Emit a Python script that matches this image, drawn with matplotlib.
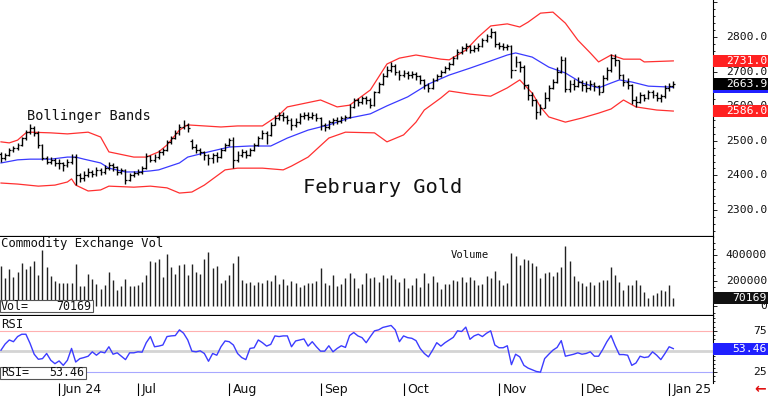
import matplotlib
matplotlib.use("Agg")
import matplotlib.pyplot as plt
from matplotlib.patches import Rectangle
from matplotlib.ticker import MultipleLocator

MONO = "DejaVu Sans Mono"

# daily bars, May 13 2024 .. Jan 3 2025 (163 sessions)
opens = [2462,
    2450, 2459, 2473, 2479, 2488, 2508, 2525, 2537, 2522, 2488,
    2450, 2439, 2445, 2436, 2436, 2430, 2439, 2453, 2401, 2392,
    2401, 2410, 2404, 2416, 2410, 2421, 2430, 2424, 2410, 2416,
    2387, 2401, 2407, 2410, 2421, 2456, 2445, 2453, 2468, 2473,
    2496, 2508, 2522, 2540, 2546, 2500, 2482, 2473, 2468, 2459,
    2450, 2459, 2453, 2473, 2488, 2502, 2445, 2460, 2468, 2459,
    2473, 2488, 2508, 2522, 2517, 2546, 2566, 2575, 2569, 2560,
    2546, 2554, 2572, 2575, 2569, 2575, 2566, 2546, 2540, 2554,
    2560, 2557, 2566, 2569, 2598, 2618, 2612, 2624, 2618, 2603,
    2641, 2664, 2687, 2705, 2716, 2699, 2690, 2696, 2690, 2693,
    2687, 2676, 2661, 2653, 2676, 2687, 2699, 2710, 2722, 2739,
    2757, 2768, 2774, 2762, 2768, 2774, 2791, 2803, 2814, 2780,
    2774, 2771, 2774, 2705, 2728, 2713, 2661, 2632, 2618, 2583,
    2595, 2625, 2653, 2670, 2700, 2735, 2650, 2664, 2658, 2670,
    2661, 2653, 2664, 2658, 2641, 2681, 2705, 2739, 2734, 2690,
    2670, 2661, 2618, 2612, 2632, 2624, 2641, 2632, 2624, 2629,
    2653, 2658]
highs = [2468, 2466, 2478, 2486, 2495, 2512, 2530, 2548, 2542, 2528,
    2490, 2456, 2452, 2450, 2446, 2440, 2446, 2462, 2462, 2408,
    2412, 2420, 2416, 2424, 2422, 2430, 2440, 2436, 2428, 2422,
    2418, 2408, 2414, 2418, 2426, 2464, 2460, 2462, 2474, 2480,
    2502, 2515, 2530, 2548, 2560, 2552, 2505, 2490, 2480, 2472,
    2462, 2466, 2468, 2480, 2495, 2508, 2510, 2470, 2476, 2474,
    2480, 2495, 2515, 2530, 2528, 2554, 2575, 2584, 2582, 2575,
    2565, 2566, 2580, 2584, 2582, 2582, 2580, 2568, 2552, 2560,
    2566, 2568, 2572, 2576, 2605, 2624, 2624, 2630, 2630, 2625,
    2645, 2670, 2695, 2715, 2728, 2722, 2705, 2705, 2702, 2702,
    2700, 2690, 2680, 2668, 2682, 2694, 2706, 2716, 2728, 2746,
    2764, 2775, 2782, 2778, 2776, 2782, 2797, 2810, 2826, 2818,
    2785, 2782, 2780, 2776, 2745, 2732, 2718, 2665, 2640, 2620,
    2605, 2641, 2660, 2680, 2712, 2745, 2742, 2676, 2680, 2684,
    2676, 2672, 2676, 2670, 2662, 2690, 2712, 2750, 2752, 2735,
    2692, 2682, 2665, 2630, 2640, 2636, 2648, 2647, 2640, 2636,
    2660, 2666, 2674]
lows = [2440, 2445, 2455, 2468, 2474, 2484, 2503, 2520, 2515, 2480,
    2444, 2432, 2434, 2428, 2418, 2412, 2424, 2434, 2372, 2380,
    2384, 2396, 2394, 2398, 2400, 2404, 2416, 2414, 2402, 2404,
    2374, 2384, 2396, 2400, 2404, 2418, 2438, 2440, 2448, 2460,
    2470, 2492, 2505, 2518, 2534, 2525, 2475, 2466, 2460, 2444,
    2430, 2436, 2440, 2450, 2470, 2484, 2420, 2440, 2452, 2450,
    2455, 2470, 2484, 2505, 2490, 2515, 2545, 2560, 2558, 2548,
    2530, 2540, 2550, 2562, 2560, 2562, 2556, 2532, 2528, 2535,
    2546, 2548, 2552, 2556, 2565, 2596, 2602, 2606, 2606, 2596,
    2600, 2638, 2660, 2685, 2700, 2690, 2675, 2684, 2680, 2682,
    2676, 2664, 2650, 2640, 2650, 2672, 2684, 2696, 2706, 2718,
    2736, 2752, 2760, 2755, 2756, 2760, 2770, 2786, 2798, 2772,
    2764, 2762, 2762, 2682, 2712, 2700, 2650, 2618, 2600, 2563,
    2575, 2594, 2615, 2650, 2668, 2695, 2640, 2640, 2648, 2655,
    2645, 2640, 2648, 2645, 2632, 2640, 2676, 2700, 2715, 2680,
    2658, 2650, 2605, 2597, 2610, 2615, 2620, 2625, 2614, 2612,
    2625, 2645, 2652]
closes = [2450, 2459, 2473, 2479, 2488, 2508, 2525, 2537, 2522, 2488,
    2450, 2439, 2445, 2436, 2436, 2430, 2439, 2453, 2401, 2392,
    2401, 2410, 2404, 2416, 2410, 2421, 2430, 2424, 2410, 2416,
    2387, 2401, 2407, 2410, 2421, 2456, 2445, 2453, 2468, 2473,
    2496, 2508, 2522, 2540, 2546, 2537, 2482, 2473, 2468, 2459,
    2450, 2459, 2453, 2473, 2488, 2502, 2445, 2460, 2468, 2459,
    2473, 2488, 2508, 2522, 2517, 2546, 2566, 2575, 2569, 2560,
    2546, 2554, 2572, 2575, 2569, 2575, 2566, 2546, 2540, 2554,
    2560, 2557, 2566, 2569, 2598, 2618, 2612, 2624, 2618, 2603,
    2641, 2664, 2687, 2705, 2716, 2699, 2690, 2696, 2690, 2693,
    2687, 2676, 2661, 2653, 2676, 2687, 2699, 2710, 2722, 2739,
    2757, 2768, 2774, 2762, 2768, 2774, 2791, 2803, 2814, 2780,
    2774, 2771, 2774, 2705, 2728, 2713, 2661, 2632, 2618, 2583,
    2595, 2625, 2653, 2670, 2700, 2735, 2650, 2664, 2658, 2670,
    2661, 2653, 2664, 2658, 2641, 2681, 2705, 2739, 2734, 2690,
    2670, 2661, 2618, 2612, 2632, 2624, 2641, 2632, 2624, 2629,
    2653, 2658, 2663.9]

# bollinger bands, read at sample bars
mid_idx = [0, 4, 7, 12, 16, 18, 20, 24, 26, 30, 33, 36, 38, 40, 43, 45, 50, 55, 60, 65,
           69, 74, 79, 84, 89, 93, 98, 103, 108, 113, 118, 122, 124, 128, 132, 136, 140,
           144, 147, 149, 152, 156, 162]
mid_band = [2436, 2445, 2447, 2447, 2453, 2453, 2447, 2436, 2421, 2410, 2410, 2413, 2416,
            2424, 2436, 2453, 2468, 2482, 2485, 2485, 2508, 2531, 2546, 2566, 2578, 2601,
            2627, 2664, 2690, 2710, 2731, 2748, 2754, 2742, 2713, 2696, 2667, 2653, 2667,
            2676, 2670, 2658, 2655]
upper_idx = [0, 2, 4, 6, 7, 12, 16, 21, 24, 26, 32, 35, 38, 40, 43, 45, 53, 57, 63, 67,
             69, 77, 81, 84, 89, 93, 96, 100, 106, 108, 112, 115, 118, 122, 125, 127, 130,
             133, 136, 139, 142, 144, 147, 150, 154, 155, 162]
upper_band = [2497, 2494, 2502, 2523, 2525, 2523, 2520, 2525, 2511, 2468, 2453, 2453, 2468,
              2488, 2531, 2546, 2540, 2543, 2543, 2575, 2598, 2618, 2598, 2603, 2647, 2722,
              2739, 2748, 2736, 2734, 2762, 2800, 2832, 2838, 2829, 2843, 2869, 2872, 2840,
              2791, 2754, 2728, 2748, 2736, 2736, 2728, 2731]
lower_idx = [0, 4, 9, 13, 16, 17, 18, 21, 24, 26, 32, 36, 40, 43, 46, 49, 54, 57, 63, 68,
             70, 74, 79, 83, 90, 93, 97, 100, 102, 106, 108, 113, 118, 122, 125, 128, 130,
             132, 136, 140, 144, 147, 150, 153, 158, 162]
lower_band = [2378, 2375, 2369, 2372, 2381, 2390, 2372, 2355, 2358, 2369, 2366, 2369, 2364,
              2349, 2352, 2372, 2416, 2421, 2421, 2416, 2427, 2453, 2508, 2525, 2523, 2497,
              2517, 2554, 2589, 2624, 2644, 2635, 2629, 2653, 2676, 2638, 2598, 2569, 2554,
              2566, 2580, 2592, 2618, 2598, 2589, 2586]

# volume, thousands of contracts
volume_k = [314, 227, 293, 233, 272, 345, 293, 319, 358, 246,
    444, 306, 240, 201, 188, 188, 188, 188, 332, 162,
    162, 254, 214, 175, 141, 167, 272, 209, 131, 162,
    214, 162, 157, 167, 193, 246, 358, 350, 371, 233,
    410, 306, 254, 324, 332, 246, 332, 272, 254, 376,
    431, 298, 314, 188, 209, 246, 340, 397,
    209, 188, 193, 170, 196, 188, 209, 201, 248, 175,
    214, 167, 201, 188, 149, 167, 188, 188, 201, 298,
    188, 170, 248, 162, 175, 220, 261, 220, 144, 180,
    261, 227, 233, 193, 246, 227, 246, 214, 193, 222,
    144, 170, 222, 154, 261, 188, 240, 193, 136, 175,
    175, 206, 201, 233, 193,
    235, 204, 165, 178, 240, 220, 282, 209, 165, 188,
    423, 397, 324, 371, 366, 345, 314, 227, 261, 267,
    240, 267, 308, 476, 353, 240, 201, 183, 157, 196,
    170, 196, 209, 204, 308, 248, 196, 131, 167, 170,
    204, 165, 112, 63, 89, 105, 131, 118, 170, 70.169]

rsi = [51.6, 59, 63.9, 61.8, 68, 70.8, 70.8, 59.8, 46.7, 40.6,
    41.4, 47.6, 39.4, 35.3, 38.6, 33.3, 39.4, 53.7, 37.3, 41.4,
    42.7, 44.3, 49.6, 45.5, 49.6, 48.4, 55.7, 46.7, 48.4, 44.3,
    40.2, 48.4, 48.4, 49.6, 49.2, 60.6, 68, 55.7, 56.5, 57.8,
    68, 68.8, 69.2, 76.1, 72, 63.9, 50.4, 49.6, 50.8, 47.6,
    38.2, 47.6, 45.5, 55.7, 62.7, 61.8, 57.8, 47.6,
    42.7, 40.2, 53.7, 54.5, 63.9, 60.6, 56.5, 58.6, 68.8, 68,
    68.8, 68.8, 55.7, 62.7, 63.9, 65.1, 56.5, 61.8, 55.7, 50.4,
    50.4, 56.9, 49.6, 53.7, 56.9, 54.9, 69.2, 72.9, 68.8, 66.7,
    60.6, 68, 74.9, 76.1, 79, 80.2, 81.4, 76.1, 61.8, 68.8,
    66.7, 65.9, 63.1, 53.7, 47.6, 43.5, 51.6, 60.6, 56.5, 60.6,
    63.9, 67.1, 74.9, 74.1, 79.4,
    64.7, 68.8, 70.8, 68, 72, 74.9, 57.8, 54.5, 54.5, 56.9,
    34.1, 46.7, 43.5, 33.3, 30, 28, 25.9, 25.1, 41.4, 46.7,
    51.6, 54.9, 63.1, 44.3, 45.5, 46.7, 48.4, 46.7, 47.6, 49.6,
    44.3, 44.3, 52.4, 61.8, 69.2, 56.9, 46.3, 46.3, 45.5, 33.3,
    36.1, 44.3, 42.7, 43.5, 49.6, 45.5, 40.2, 47.6, 55.7, 53.46]

month_idx = [14, 33, 55, 77, 97, 120, 140, 161]
month_labels = ["Jun 24", "Jul", "Aug", "Sep", "Oct", "Nov", "Dec", "Jan 25"]
price_ticks = [2300, 2400, 2500, 2600, 2700, 2800]
vol_ticks = [0, 200000, 400000]
rsi_ticks = [25, 75]

W, H = 768, 396
fig = plt.figure(figsize=(W / 100, H / 100), dpi=100)
fig.patch.set_facecolor("white")


def px_axes(top, bottom):
    return fig.add_axes([0, 1 - bottom / H, 713 / W, (bottom - top) / H])


ax_p = px_axes(0, 237)
ax_v = px_axes(237, 316)
ax_r = px_axes(316, 383)

bars = list(range(len(closes)))
xmin = -0.24
xmax = xmin + 713 / 4.15

for ax in (ax_p, ax_v, ax_r):
    ax.set_xlim(xmin, xmax)
    for s in ("top", "left", "bottom"):
        ax.spines[s].set_visible(False)
    ax.spines["right"].set_linewidth(0.8)
    ax.tick_params(which="both", left=False, right=True, labelleft=False, labelright=False,
                   bottom=False, labelbottom=False, direction="out", width=0.6)
    ax.tick_params(which="major", length=3)
    ax.tick_params(which="minor", length=1.5)

# price panel
ax_p.set_ylim(2222, 2907)
ax_p.yaxis.set_major_locator(MultipleLocator(100))
ax_p.yaxis.set_minor_locator(MultipleLocator(20))
ax_p.spines["bottom"].set_visible(True)
ax_p.spines["bottom"].set_linewidth(1.6)
ax_p.plot(upper_idx, upper_band, color="#ff3030", lw=0.9)
ax_p.plot(lower_idx, lower_band, color="#ff3030", lw=0.9)
ax_p.plot(mid_idx, mid_band, color="#3a3aff", lw=0.9)
ax_p.vlines(bars, lows, highs, color="black", lw=1.0)
ax_p.hlines(opens, [b - 0.45 for b in bars], bars, color="black", lw=0.9)
ax_p.hlines(closes, bars, [b + 0.45 for b in bars], color="black", lw=0.9)

# volume panel
ax_v.set_ylim(-74500, 545000)
ax_v.yaxis.set_major_locator(MultipleLocator(200000))
ax_v.yaxis.set_minor_locator(MultipleLocator(50000))
ax_v.spines["bottom"].set_visible(True)
ax_v.spines["bottom"].set_linewidth(1.6)
ax_v.vlines(bars, 0, [v * 1000 for v in volume_k], color="#222222", lw=1.0)

# rsi panel
ax_r.set_ylim(12, 92.8)
ax_r.yaxis.set_major_locator(MultipleLocator(25))
ax_r.yaxis.set_minor_locator(MultipleLocator(5))
ax_r.axhline(75, color="#ffb0b0", lw=0.8)
ax_r.axhline(50, color="#d4d4d4", lw=2.0)
ax_r.axhline(25, color="#a8a8ff", lw=0.8)
ax_r.plot(bars, rsi, color="#3c3cff", lw=1.0)
ax_r.set_xticks(month_idx)
ax_r.tick_params(axis="x", which="major", bottom=True, length=9.5, width=0.8, color="black")
for m, lab in zip(month_idx, month_labels):
    ax_r.text(m + 0.8, -0.1, lab, transform=ax_r.get_xaxis_transform(), ha="left",
              va="center", fontsize=9, color="#111111", family="DejaVu Sans")


# right-hand scale labels
def right_label(ax, v, s):
    ax.text(767 / 713, v, s, transform=ax.get_yaxis_transform(), ha="right", va="center",
            fontsize=8.2, family=MONO, color="#111111", clip_on=False)


for v in price_ticks:
    right_label(ax_p, v, f"{v:.1f}")
for v in vol_ticks:
    right_label(ax_v, v, str(v))
for v in rsi_ticks:
    right_label(ax_r, v, str(v))


def tag(ax, v, s, face):
    yf = fig.transFigure.inverted().transform(ax.transData.transform((0, v)))[1]
    h = 12 / H
    fig.patches.append(Rectangle((713 / W, yf - h / 2), 55 / W, h, transform=fig.transFigure,
                                 facecolor=face, edgecolor="none", zorder=5))
    if s:
        fig.text(767 / W, yf, s, ha="right", va="center", color="white", fontsize=8.2,
                 family=MONO, zorder=6)


tag(ax_p, upper_band[-1], f"{upper_band[-1]:.1f}", "#ff2020")
tag(ax_p, lower_band[-1], f"{lower_band[-1]:.1f}", "#ff2020")
tag(ax_p, mid_band[-1], "", "#2020ff")  # hidden behind the close tag, only its edge shows
tag(ax_p, closes[-1], f"{closes[-1]:.1f}", "#000000")
tag(ax_v, volume_k[-1] * 1000, f"{volume_k[-1] * 1000:.0f}", "#111111")
tag(ax_r, rsi[-1], f"{rsi[-1]:.2f}", "#2020ff")


def value_box(top, width, name, value):
    fig.patches.append(Rectangle((0, 1 - (top + 12) / H), width / W, 12 / H,
                                 transform=fig.transFigure, facecolor="white",
                                 edgecolor="#555555", lw=0.8, zorder=5))
    fig.text(1 / W, 1 - (top + 6) / H, name, ha="left", va="center", fontsize=8.4,
             family=MONO, color="#111111", zorder=6)
    fig.text((width - 2) / W, 1 - (top + 6) / H, value, ha="right", va="center",
             fontsize=8.4, family=MONO, color="#111111", zorder=6)


value_box(300, 93, "Vol=", f"{volume_k[-1] * 1000:.0f}")
value_box(367, 86, "RSI=", f"{rsi[-1]:.2f}")


def label(xp, yp, s, size):
    fig.text(xp / W, 1 - yp / H, s, ha="left", va="center", fontsize=size, family=MONO,
             color="#111111")


label(27, 116, "Bollinger Bands", 9.8)
label(303, 188, "February Gold", 14.7)
label(1, 243, "Commodity Exchange Vol", 8.8)
label(451, 255, "Volume", 7.6)
label(1, 325, "RSI", 8.8)
fig.text(766 / W, 1 - 389 / H, "\u2190", ha="right", va="center", fontsize=10,
         color="#e01010", fontweight="bold")

fig.savefig("out.png", dpi=100, facecolor="white")
